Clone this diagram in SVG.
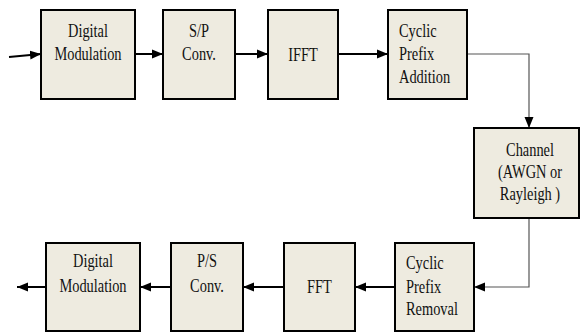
<svg xmlns="http://www.w3.org/2000/svg" width="580" height="333" viewBox="0 0 580 333">
<style>
.box{fill:#EEEBE0;stroke:#000;stroke-width:2}
.t{font-family:"Liberation Serif","Times New Roman",serif;font-size:18px;fill:#111}
.c{stroke:#000;stroke-width:2;fill:none}
.g{stroke:#555;stroke-width:1.2;fill:none}
</style>
<defs>
<marker id="ah" markerUnits="userSpaceOnUse" markerWidth="12" markerHeight="10" refX="11" refY="5" orient="auto">
<path d="M0,0.5 L11,5 L0,9.5 Z" fill="#000"/>
</marker>
</defs>
<rect width="580" height="333" fill="#fff"/>
<g id="connectors">
<path class="c" d="M9,57 L41,54" marker-end="url(#ah)"/>
<path class="c" d="M135,54 L163,54" marker-end="url(#ah)"/>
<path class="c" d="M235,54 L268,54" marker-end="url(#ah)"/>
<path class="c" d="M338,54 L388,54" marker-end="url(#ah)"/>
<path class="g" d="M467,54 L529,54 L529,128" marker-end="url(#ah)"/>
<path class="g" d="M529,218 L529,287 L474,287" marker-end="url(#ah)"/>
<path class="c" d="M395,287 L355,287" marker-end="url(#ah)"/>
<path class="c" d="M284,287 L243,287" marker-end="url(#ah)"/>
<path class="c" d="M171,287 L140,287" marker-end="url(#ah)"/>
<path class="c" d="M46,287 L17,287" marker-end="url(#ah)"/>
</g>
<g id="dm-tx">
<rect class="box" x="41" y="10" width="94" height="89"/>
<text class="t" text-anchor="middle" transform="matrix(0.8 0 0 1 88 0)"><tspan x="0" y="37">Digital</tspan><tspan x="0" y="60">Modulation</tspan></text>
</g>
<g id="sp">
<rect class="box" x="163" y="10" width="72" height="89"/>
<text class="t" text-anchor="middle" transform="matrix(0.8 0 0 1 199 0)"><tspan x="0" y="37">S/P</tspan><tspan x="0" y="60">Conv.</tspan></text>
</g>
<g id="ifft">
<rect class="box" x="268" y="10" width="70" height="89"/>
<text class="t" text-anchor="middle" transform="matrix(0.8 0 0 1 303 0)"><tspan x="0" y="61">IFFT</tspan></text>
</g>
<g id="cpa">
<rect class="box" x="388" y="10" width="79" height="89"/>
<text class="t" transform="matrix(0.8 0 0 1 399 0)"><tspan x="0" y="37">Cyclic</tspan><tspan x="0" y="60">Prefix</tspan><tspan x="0" y="83">Addition</tspan></text>
</g>
<g id="channel">
<rect class="box" x="474" y="128" width="105" height="90"/>
<text class="t" text-anchor="middle" transform="matrix(0.8 0 0 1 530 0)"><tspan x="0" y="156">Channel</tspan><tspan x="0" y="178">(AWGN or</tspan><tspan x="0" y="200">Rayleigh )</tspan></text>
</g>
<g id="cpr">
<rect class="box" x="395" y="243" width="79" height="88"/>
<text class="t" transform="matrix(0.8 0 0 1 406 0)"><tspan x="0" y="269">Cyclic</tspan><tspan x="0" y="293">Prefix</tspan><tspan x="0" y="315">Removal</tspan></text>
</g>
<g id="fft">
<rect class="box" x="284" y="243" width="71" height="88"/>
<text class="t" text-anchor="middle" transform="matrix(0.8 0 0 1 319.5 0)"><tspan x="0" y="293">FFT</tspan></text>
</g>
<g id="ps">
<rect class="box" x="171" y="243" width="72" height="88"/>
<text class="t" text-anchor="middle" transform="matrix(0.8 0 0 1 207 0)"><tspan x="0" y="267">P/S</tspan><tspan x="0" y="292">Conv.</tspan></text>
</g>
<g id="dm-rx">
<rect class="box" x="46" y="243" width="94" height="88"/>
<text class="t" text-anchor="middle" transform="matrix(0.8 0 0 1 93 0)"><tspan x="0" y="267">Digital</tspan><tspan x="0" y="292">Modulation</tspan></text>
</g>
</svg>
